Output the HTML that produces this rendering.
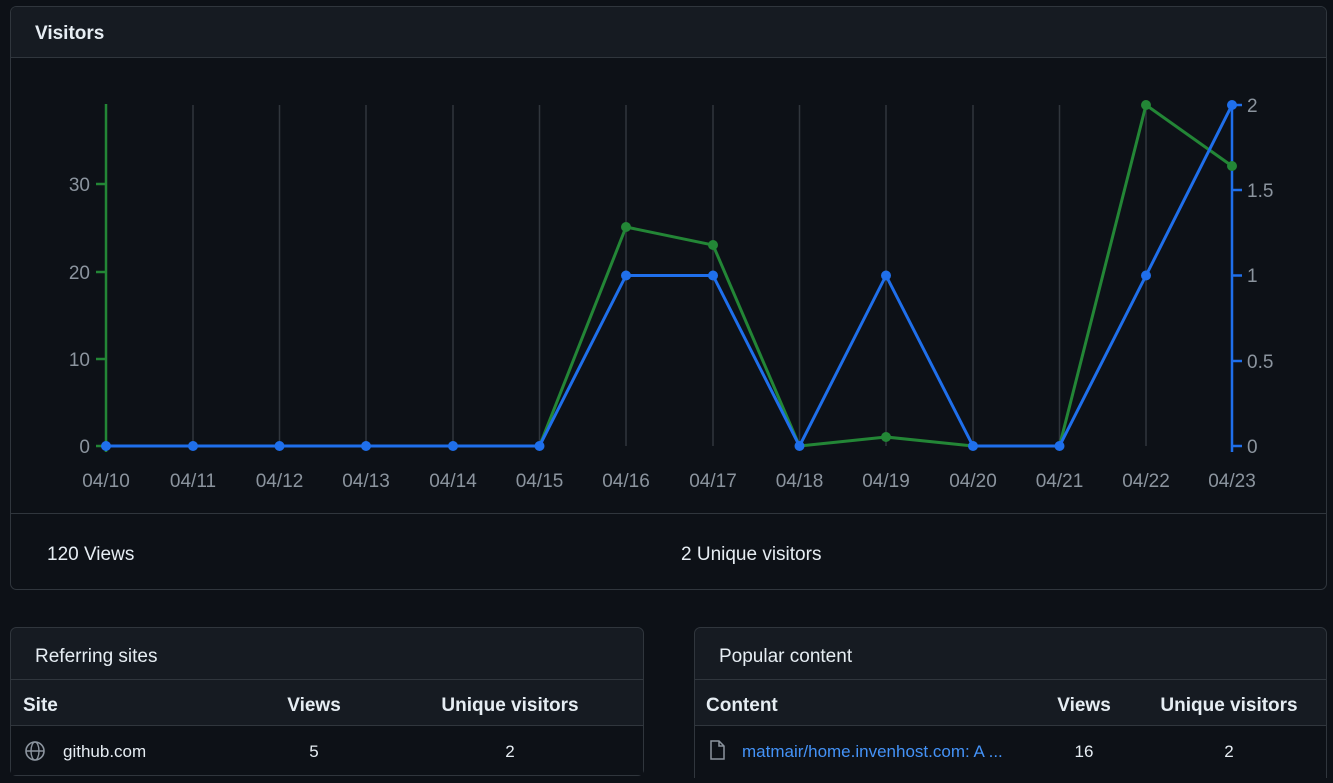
<!DOCTYPE html>
<html><head><style>
body{margin:0;background:#0d1117;width:1333px;height:778px;overflow:hidden;font-family:"Liberation Sans",sans-serif;}
</style></head><body>
<svg width="1333" height="778" xmlns="http://www.w3.org/2000/svg" font-family="Liberation Sans, sans-serif">
<rect width="1333" height="778" fill="#0d1117"/>
<!-- visitors panel -->
<rect x="10.5" y="6.5" width="1316" height="583" rx="6" fill="#0d1117" stroke="#30363d"/>
<path d="M11 57 V12 a5 5 0 0 1 5 -5 H1321 a5 5 0 0 1 5 5 V57 Z" fill="#161b22"/>
<line x1="10" y1="57.5" x2="1327" y2="57.5" stroke="#30363d"/>
<text x="35" y="39" fill="#e6edf3" font-size="19" font-weight="bold">Visitors</text>
<line x1="10" y1="513.5" x2="1327" y2="513.5" stroke="#30363d"/>
<text x="47" y="560" fill="#e6edf3" font-size="19">120 Views</text>
<text x="681" y="560" fill="#e6edf3" font-size="19">2 Unique visitors</text>
<g stroke="#30363d" stroke-width="1.5">
<line x1="193" y1="105" x2="193" y2="446"/><line x1="279.5" y1="105" x2="279.5" y2="446"/><line x1="366" y1="105" x2="366" y2="446"/><line x1="453" y1="105" x2="453" y2="446"/><line x1="539.5" y1="105" x2="539.5" y2="446"/><line x1="626" y1="105" x2="626" y2="446"/><line x1="713" y1="105" x2="713" y2="446"/><line x1="799.5" y1="105" x2="799.5" y2="446"/><line x1="886" y1="105" x2="886" y2="446"/><line x1="973" y1="105" x2="973" y2="446"/><line x1="1059.5" y1="105" x2="1059.5" y2="446"/><line x1="1146" y1="105" x2="1146" y2="446"/>
</g>
<g stroke="#238636" stroke-width="2.5"><line x1="106" y1="104" x2="106" y2="452"/>
<line x1="96" y1="446" x2="106" y2="446"/><line x1="96" y1="359" x2="106" y2="359"/><line x1="96" y1="272" x2="106" y2="272"/><line x1="96" y1="184" x2="106" y2="184"/></g>
<g fill="#8b949e" font-size="19" text-anchor="end"><text x="90" y="453">0</text><text x="90" y="366">10</text><text x="90" y="279">20</text><text x="90" y="191">30</text></g>
<g stroke="#1f6feb" stroke-width="2.5"><line x1="1232" y1="104" x2="1232" y2="452"/>
<line x1="1232" y1="446" x2="1242" y2="446"/><line x1="1232" y1="361" x2="1242" y2="361"/><line x1="1232" y1="275.5" x2="1242" y2="275.5"/><line x1="1232" y1="190" x2="1242" y2="190"/><line x1="1232" y1="105" x2="1242" y2="105"/></g>
<g fill="#8b949e" font-size="19"><text x="1247" y="453">0</text><text x="1247" y="368">0.5</text><text x="1247" y="282">1</text><text x="1247" y="197">1.5</text><text x="1247" y="112">2</text></g>
<g fill="#8b949e" font-size="19" text-anchor="middle">
<text x="106" y="487">04/10</text><text x="193" y="487">04/11</text><text x="279.5" y="487">04/12</text><text x="366" y="487">04/13</text><text x="453" y="487">04/14</text><text x="539.5" y="487">04/15</text><text x="626" y="487">04/16</text><text x="713" y="487">04/17</text><text x="799.5" y="487">04/18</text><text x="886" y="487">04/19</text><text x="973" y="487">04/20</text><text x="1059.5" y="487">04/21</text><text x="1146" y="487">04/22</text><text x="1232" y="487">04/23</text></g>
<polyline fill="none" stroke="#238636" stroke-width="3" points="106,446 193,446 279.5,446 366,446 453,446 539.5,446 626,227 713,245 799.5,446 886,437 973,446 1059.5,446 1146,105 1232,166"/>
<g fill="#238636"><circle cx="626" cy="227" r="5"/><circle cx="713" cy="245" r="5"/><circle cx="886" cy="437" r="5"/><circle cx="1146" cy="105" r="5"/><circle cx="1232" cy="166" r="5"/></g>
<polyline fill="none" stroke="#1f6feb" stroke-width="3" points="106,446 193,446 279.5,446 366,446 453,446 539.5,446 626,275.5 713,275.5 799.5,446 886,275.5 973,446 1059.5,446 1146,275.5 1232,105"/>
<g fill="#1f6feb"><circle cx="106" cy="446" r="5"/><circle cx="193" cy="446" r="5"/><circle cx="279.5" cy="446" r="5"/><circle cx="366" cy="446" r="5"/><circle cx="453" cy="446" r="5"/><circle cx="539.5" cy="446" r="5"/><circle cx="626" cy="275.5" r="5"/><circle cx="713" cy="275.5" r="5"/><circle cx="799.5" cy="446" r="5"/><circle cx="886" cy="275.5" r="5"/><circle cx="973" cy="446" r="5"/><circle cx="1059.5" cy="446" r="5"/><circle cx="1146" cy="275.5" r="5"/><circle cx="1232" cy="105" r="5"/></g>
<!-- referring sites -->
<rect x="10.5" y="627.5" width="633" height="148" rx="6" fill="#161b22" stroke="#30363d"/>
<rect x="11" y="726" width="632" height="49" fill="#0d1117"/>
<line x1="10" y1="679.5" x2="644" y2="679.5" stroke="#30363d"/>
<line x1="10" y1="725.5" x2="644" y2="725.5" stroke="#30363d"/>
<text x="35" y="662" fill="#e6edf3" font-size="19">Referring sites</text>
<g fill="#e6edf3" font-size="19" font-weight="bold"><text x="23" y="711">Site</text><text x="314" y="711" text-anchor="middle">Views</text><text x="510" y="711" text-anchor="middle">Unique visitors</text></g>
<circle cx="35" cy="751" r="9" fill="none" stroke="#8b949e" stroke-width="1.6"/><ellipse cx="35" cy="751" rx="4" ry="9" fill="none" stroke="#8b949e" stroke-width="1.4"/><line x1="26" y1="751" x2="44" y2="751" stroke="#8b949e" stroke-width="1.4"/>
<g fill="#e6edf3" font-size="17"><text x="63" y="757">github.com</text><text x="314" y="757" text-anchor="middle">5</text><text x="510" y="757" text-anchor="middle">2</text></g>
<!-- popular content -->
<rect x="694.5" y="627.5" width="632" height="160" rx="6" fill="#161b22" stroke="#30363d"/>
<rect x="695" y="726" width="631" height="60" fill="#0d1117"/>
<line x1="694" y1="679.5" x2="1327" y2="679.5" stroke="#30363d"/>
<line x1="694" y1="725.5" x2="1327" y2="725.5" stroke="#30363d"/>
<text x="719" y="662" fill="#e6edf3" font-size="19">Popular content</text>
<g fill="#e6edf3" font-size="19" font-weight="bold"><text x="706" y="711">Content</text><text x="1084" y="711" text-anchor="middle">Views</text><text x="1229" y="711" text-anchor="middle">Unique visitors</text></g>
<path d="M711 741 h8 l5 5 v13 h-13 Z M719 741 v5 h5" fill="none" stroke="#8b949e" stroke-width="1.5"/>
<text x="742" y="757" fill="#4493f8" font-size="17">matmair/home.invenhost.com: A ...</text>
<g fill="#e6edf3" font-size="17"><text x="1084" y="757" text-anchor="middle">16</text><text x="1229" y="757" text-anchor="middle">2</text></g>
</svg>
</body></html>
